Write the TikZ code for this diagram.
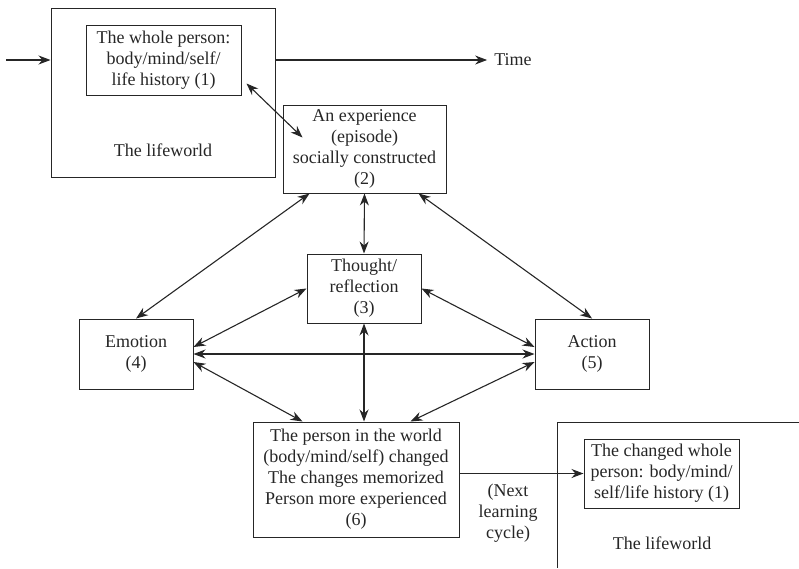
\documentclass[tikz,border=0pt]{standalone}
\usepackage{fontspec}
\setmainfont{Liberation Serif}
\usepackage{tikz}
\usetikzlibrary{arrows.meta,calc}

\tikzset{
    box/.style={draw, line width=1pt, align=center, inner sep=0pt},
    link/.style={line width=1.1pt, {Stealth[length=12pt,width=9pt]}-{Stealth[length=12pt,width=9pt]}},
    into/.style={line width=1.1pt, -{Stealth[length=12pt,width=9pt]}}
}

\begin{document}
\begin{tikzpicture}[x=1pt, y=-1pt, color=black!85, font=\fontsize{18}{21}\selectfont]
    \useasboundingbox (0,0) rectangle (799,568);
    % first lifeworld
    \node[box, minimum width=224, minimum height=169] (world1) at (163,92.5) {};
    \node[box, minimum width=155, minimum height=70] (one) at (163.5,60) {The whole person:\\body/mind/self/\\life history (1)};
    \node (life1) at (163,150) {The lifeworld};
    \coordinate (start) at (6,60);
    \node[inner sep=7pt] (time) at (513,60) {Time};
    \draw[into] (start) -- (world1.west |- start);
    \draw[into] (world1.east |- time) -- (time.west);

    % the learning cycle
    \node[box, minimum width=163, minimum height=88] (two) at (364.5,149) {An experience\\(episode)\\socially constructed\\(2)};
    \node[box, minimum width=114, minimum height=69] (three) at (364,288.5) {Thought/\\reflection\\(3)};
    \node[box, minimum width=114, minimum height=70] (four) at (136,354) {Emotion\\(4)};
    \node[box, minimum width=114, minimum height=70] (five) at (592,354) {Action\\(5)};
    \node[box, minimum width=206, minimum height=115] (six) at (356,479.5) {The person in the world\\(body/mind/self) changed\\The changes memorized\\Person more experienced\\(6)};

    \draw[link] ($(one.south east)+(5,-12)$) -- ($(two.north west)+(20,33)$);
    \draw[link] (two.south) -- (three.north);
    \draw[link] ($(two.south west)+(27,0)$) -- (four.north);
    \draw[link] ($(two.south east)+(-28,0)$) -- (five.north);
    \draw[link] (three.west) -- ($(four.east)+(0,-7)$);
    \draw[link] (three.east) -- ($(five.west)+(0,-7)$);
    \draw[link] (four.east) -- (five.west);
    \draw[link] ($(four.east)+(0,8)$) -- ($(six.north west)+(50,0)$);
    \draw[link] ($(five.west)+(0,8)$) -- ($(six.north east)+(-49,0)$);
    \draw[link] (three.south) -- (three.south |- six.north);

    % next lifeworld
    \draw[line width=1pt] (799,422) -| (557,568);
    \node[box, minimum width=155, minimum height=69] (onenext) at (661.5,473.5) {The changed whole\\person: body/mind/\\self/life history (1)};
    \node (life2) at (662,543) {The lifeworld};
    \node[align=center] (next) at (508,513) {(Next\\learning\\cycle)};
    \draw[into] (six.east |- onenext.west) -- (onenext.west);
\end{tikzpicture}
\end{document}
